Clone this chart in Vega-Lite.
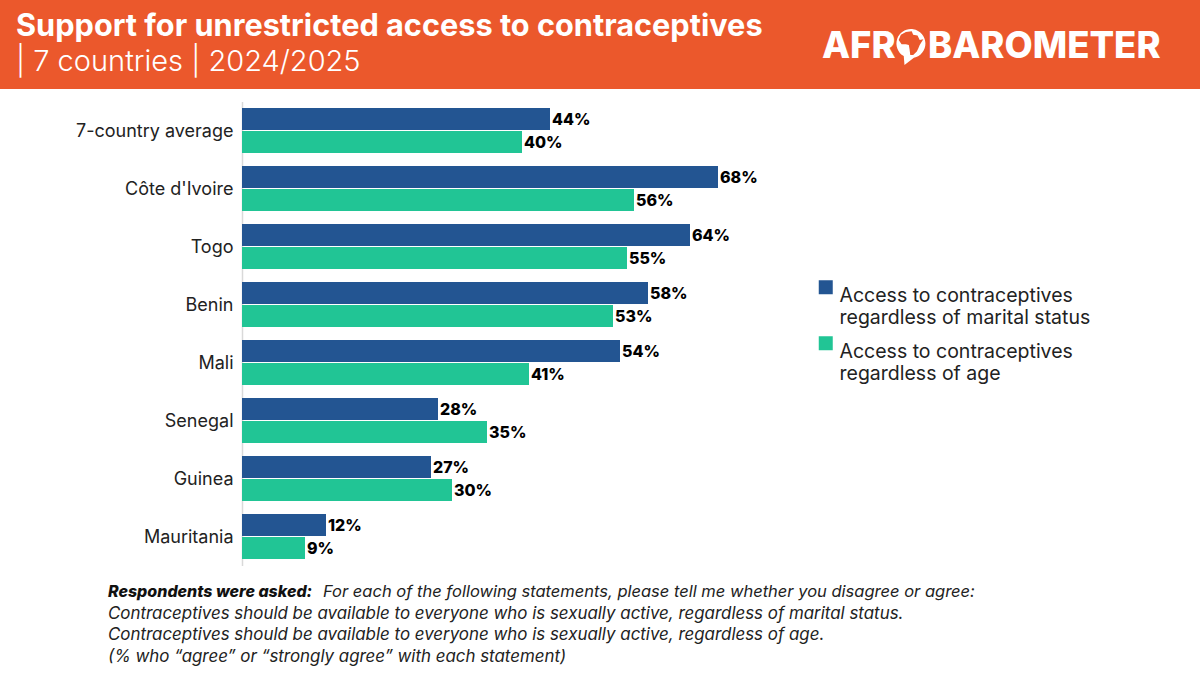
{
  "$schema": "https://vega.github.io/schema/vega-lite/v5.json",
  "width": 1200,
  "height": 675,
  "autosize": {"type": "none"},
  "padding": 0,
  "background": "white",
  "config": {"view": {"stroke": null}, "font": "Inter"},
  "title": {
    "text": "Support for unrestricted access to contraceptives",
    "subtitle": "| 7 countries | 2024/2025",
    "anchor": "start",
    "frame": "group",
    "orient": "top",
    "dx": 16,
    "dy": 78,
    "offset": 0,
    "font": "Inter",
    "fontSize": 30.7,
    "fontWeight": 700,
    "color": "white",
    "subtitleFont": "Inter",
    "subtitleFontSize": 29,
    "subtitleFontWeight": 300,
    "subtitleColor": "white",
    "subtitlePadding": 5
  },
  "datasets": {
    "survey": [
      {"country": "7-country average", "item": "Access to contraceptives regardless of marital status", "pct": 0.44},
      {"country": "7-country average", "item": "Access to contraceptives regardless of age", "pct": 0.40},
      {"country": "Côte d'Ivoire", "item": "Access to contraceptives regardless of marital status", "pct": 0.68},
      {"country": "Côte d'Ivoire", "item": "Access to contraceptives regardless of age", "pct": 0.56},
      {"country": "Togo", "item": "Access to contraceptives regardless of marital status", "pct": 0.64},
      {"country": "Togo", "item": "Access to contraceptives regardless of age", "pct": 0.55},
      {"country": "Benin", "item": "Access to contraceptives regardless of marital status", "pct": 0.58},
      {"country": "Benin", "item": "Access to contraceptives regardless of age", "pct": 0.53},
      {"country": "Mali", "item": "Access to contraceptives regardless of marital status", "pct": 0.54},
      {"country": "Mali", "item": "Access to contraceptives regardless of age", "pct": 0.41},
      {"country": "Senegal", "item": "Access to contraceptives regardless of marital status", "pct": 0.28},
      {"country": "Senegal", "item": "Access to contraceptives regardless of age", "pct": 0.35},
      {"country": "Guinea", "item": "Access to contraceptives regardless of marital status", "pct": 0.27},
      {"country": "Guinea", "item": "Access to contraceptives regardless of age", "pct": 0.30},
      {"country": "Mauritania", "item": "Access to contraceptives regardless of marital status", "pct": 0.12},
      {"country": "Mauritania", "item": "Access to contraceptives regardless of age", "pct": 0.09}
    ]
  },
  "layer": [
    {
      "data": {"values": [{"from": 0, "to": 1}]},
      "mark": {"type": "rect", "color": "#EB582C"},
      "encoding": {
        "x": {"field": "from", "type": "quantitative", "scale": {"domain": [0, 1], "range": [0, 1200]}, "axis": null},
        "x2": {"field": "to"},
        "y": {"field": "from", "type": "quantitative", "scale": {"domain": [0, 1], "range": [0, 89]}, "axis": null},
        "y2": {"field": "to"}
      }
    },
    {
      "data": {"name": "survey"},
      "layer": [
        {
          "mark": {"type": "bar", "stroke": null},
          "encoding": {
            "x": {"field": "pct", "type": "quantitative", "scale": {"domain": [0, 1], "range": [242, 942]}, "axis": null},
            "y": {
              "field": "country",
              "type": "nominal",
              "sort": null,
              "scale": {"range": [101.5, 565.5], "paddingInner": 0.224, "paddingOuter": 0.112},
              "axis": {
                "title": null,
                "offset": -242,
                "ticks": false,
                "labelFont": "Inter",
                "labelFontSize": 18,
                "labelFontWeight": 400,
                "labelColor": "#222222",
                "labelPadding": 9,
                "labelOffset": 1,
                "labelLimit": 220,
                "domainColor": "#D9D9D9",
                "domainWidth": 1.5,
                "grid": false
              }
            },
            "yOffset": {
              "field": "item",
              "type": "nominal",
              "sort": null,
              "scale": {"paddingInner": 0.04}
            },
            "color": {
              "field": "item",
              "type": "nominal",
              "sort": null,
              "scale": {
                "domain": ["Access to contraceptives regardless of marital status", "Access to contraceptives regardless of age"],
                "range": ["#235592", "#21C595"]
              },
              "legend": {
                "title": null,
                "orient": "none",
                "legendX": 816,
                "legendY": 277.5,
                "symbolType": "square",
                "symbolSize": 196,
                "symbolStrokeWidth": 0,
                "symbolOpacity": 1,
                "labelFont": "Inter",
                "labelFontSize": 19.5,
                "labelColor": "#222222",
                "labelLimit": 300,
                "labelOffset": 4,
                "labelBaseline": "top",
                "rowPadding": 6,
                "labelExpr": "[slice(datum.label, 0, 24), slice(datum.label, 25)]"
              }
            }
          }
        },
        {
          "mark": {"type": "text", "align": "left", "baseline": "middle", "dx": 2, "dy": 1, "font": "Inter", "fontSize": 16, "fontWeight": 800, "color": "black"},
          "encoding": {
            "x": {"field": "pct", "type": "quantitative"},
            "y": {"field": "country", "type": "nominal", "sort": null},
            "yOffset": {"field": "item", "type": "nominal", "sort": null},
            "text": {"field": "pct", "type": "quantitative", "format": ".0%"}
          }
        }
      ]
    },
    {
      "data": {"values": [
        {"col": "left", "bold": true, "line": "1", "text": "Respondents were asked:"},
        {"col": "right", "bold": false, "line": "1", "text": "For each of the following statements, please tell me whether you disagree or agree:"},
        {"col": "left", "bold": false, "line": "2", "text": "Contraceptives should be available to everyone who is sexually active, regardless of marital status."},
        {"col": "left", "bold": false, "line": "3", "text": "Contraceptives should be available to everyone who is sexually active, regardless of age."},
        {"col": "left", "bold": false, "line": "4", "text": "(% who “agree” or “strongly agree” with each statement)"}
      ]},
      "encoding": {
        "x": {"field": "col", "type": "nominal", "scale": {"type": "point", "padding": 0, "domain": ["left", "right"], "range": [108, 323]}, "axis": null},
        "y": {"field": "line", "type": "ordinal", "scale": {"type": "point", "padding": 0, "domain": ["1", "2", "3", "4"], "range": [592, 657]}, "axis": null},
        "text": {"field": "text"}
      },
      "layer": [
        {
          "transform": [{"filter": "datum.bold"}],
          "mark": {"type": "text", "align": "left", "baseline": "middle", "font": "Inter", "fontStyle": "italic", "fontWeight": 800, "fontSize": 16, "color": "#111111"}
        },
        {
          "transform": [{"filter": "!datum.bold"}],
          "mark": {"type": "text", "align": "left", "baseline": "middle", "font": "Inter", "fontStyle": "italic", "fontWeight": 400, "color": "#222222"},
          "encoding": {"size": {"condition": {"test": "datum.col === 'right'", "value": 16.5}, "value": 16.9}}
        }
      ]
    },
    {
      "data": {"values": [{"logo": "AFR"}, {"logo": "BAROMETER"}]},
      "mark": {"type": "text", "align": "left", "baseline": "alphabetic", "font": "Inter", "fontSize": 36.5, "fontWeight": 800, "color": "white"},
      "encoding": {
        "x": {"field": "logo", "type": "nominal", "scale": {"type": "point", "padding": 0, "domain": ["AFR", "BAROMETER"], "range": [822, 928]}, "axis": null},
        "y": {"field": "logo", "type": "nominal", "scale": {"type": "point", "padding": 0, "domain": ["AFR", "BAROMETER"], "range": [58, 58]}, "axis": null},
        "text": {"field": "logo"}
      }
    },
    {
      "data": {"values": [{"logo": "O"}]},
      "encoding": {
        "x": {"field": "logo", "type": "nominal", "scale": {"type": "point", "range": [911, 911]}, "axis": null},
        "y": {"field": "logo", "type": "nominal", "scale": {"type": "point", "range": [43.5, 43.5]}, "axis": null}
      },
      "layer": [
        {"mark": {"type": "point", "filled": true, "opacity": 1, "color": "white", "size": 841, "shape": "M-0.5,0.87 A1,1 0 1,1 0.2,0.98 L-0.45,1.48 Z"}},
        {"mark": {"type": "point", "filled": true, "opacity": 1, "color": "#EB582C", "size": 841, "shape": "M-0.35,-0.8 L0.05,-0.85 L0.15,-0.6 L0.45,-0.55 L0.6,-0.25 L0.85,-0.3 L0.6,0.1 L0.5,0.35 L0.4,0.55 L0.15,0.8 L-0.05,0.8 L-0.1,0.4 L-0.15,0.1 L-0.35,0.05 L-0.65,0.05 L-0.85,-0.25 L-0.7,-0.6 Z"}}
      ]
    }
  ],
  "resolve": {"scale": {"x": "independent", "y": "independent"}, "axis": {"x": "independent", "y": "independent"}}
}
